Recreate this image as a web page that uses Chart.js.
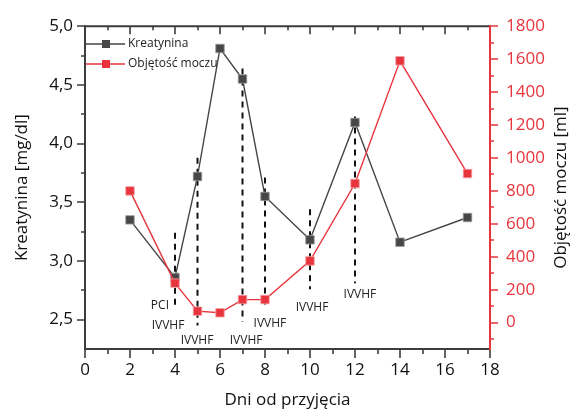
<!DOCTYPE html>
<html>
<head>
  <meta charset="utf-8">
  <title>Kreatynina i objętość moczu</title>
  <script src="https://cdn.jsdelivr.net/npm/chart.js"></script>
  <style>
    body { margin: 0; background: #fff; }
    canvas { display: block; }
  </style>
</head>
<body>
  <canvas id="chart" width="574" height="413"></canvas>

  <script>
    // ----- Data -----
    const days       = [2, 4, 5, 6, 7, 8, 10, 12, 14, 17];
    const creatinine = [3.35, 2.86, 3.72, 4.81, 4.55, 3.55, 3.18, 4.18, 3.16, 3.37];
    const urine      = [800, 240, 70, 60, 140, 140, 375, 845, 1590, 905];

    // dashed procedure markers (in creatinine units)
    const markDays   = [4, 5, 7, 8, 10, 12];
    const markTop    = [3.24, 3.88, 4.64, 3.71, 3.44, 4.23];
    const markBottom = [2.60, 2.45, 2.48, 2.60, 2.76, 2.81];

    // procedure labels
    const noteText = ["PCI", "IVVHF", "IVVHF", "IVVHF", "IVVHF", "IVVHF", "IVVHF"];
    const noteX    = [3.33, 3.69, 4.98, 7.16, 8.22, 10.09, 12.22];
    const noteY    = [2.62, 2.45, 2.32, 2.32, 2.47, 2.60, 2.71];

    // axis ticks
    const xTicks     = [0, 2, 4, 6, 8, 10, 12, 14, 16, 18];
    const xMinor     = [1, 3, 5, 7, 9, 11, 13, 15, 17];
    const leftTicks  = [2.5, 3.0, 3.5, 4.0, 4.5, 5.0];
    const leftMinor  = [2.75, 3.25, 3.75, 4.25, 4.75];
    const rightTicks = [0, 200, 400, 600, 800, 1000, 1200, 1400, 1600, 1800];
    const rightMinor = [-100, 100, 300, 500, 700, 900, 1100, 1300, 1500, 1700];

    const DARK = "#3d3d3d";
    const RED  = "#e8343c";
    const FONT = "'Open Sans', sans-serif";

    const toPts = (xs, ys) => xs.map((x, i) => ({ x: x, y: ys[i] }));

    const datasets = [
      {
        label: "Objętość moczu",
        data: toPts(days, urine),
        yAxisID: "y1",
        borderColor: RED,
        borderWidth: 1.4,
        backgroundColor: RED,
        pointStyle: "rect",
        pointRadius: 6,
        pointBorderColor: "#f4a0a4",
        pointBorderWidth: 0.8,
        tension: 0
      },
      {
        label: "Kreatynina",
        data: toPts(days, creatinine),
        yAxisID: "y",
        borderColor: "#454545",
        borderWidth: 1.4,
        backgroundColor: "#474747",
        pointStyle: "rect",
        pointRadius: 6,
        pointBorderColor: "#9a9a9a",
        pointBorderWidth: 0.8,
        tension: 0
      }
    ];

    markDays.forEach((d, i) => {
      datasets.push({
        label: "",
        data: [{ x: d, y: markTop[i] }, { x: d, y: markBottom[i] }],
        yAxisID: "y",
        borderColor: "#111",
        borderWidth: 2,
        borderDash: [6, 5],
        pointRadius: 0
      });
    });

    // ----- frame, minor ticks, titles, legend and notes -----
    const decorations = {
      id: "decorations",
      afterDraw(chart) {
        const ctx = chart.ctx;
        const { left, right, top, bottom } = chart.chartArea;
        const sx = chart.scales.x, sy = chart.scales.y, sr = chart.scales.y1;

        ctx.save();
        ctx.lineCap = "butt";

        // notes
        ctx.fillStyle = "#222";
        ctx.font = "12px " + FONT;
        ctx.textAlign = "center";
        ctx.textBaseline = "middle";
        noteText.forEach((t, i) => {
          ctx.fillText(t, sx.getPixelForValue(noteX[i]), sy.getPixelForValue(noteY[i]));
        });

        // top + bottom axes
        ctx.strokeStyle = DARK;
        ctx.lineWidth = 2;
        ctx.beginPath();
        ctx.moveTo(left, top); ctx.lineTo(right, top);
        ctx.moveTo(left - 1, bottom); ctx.lineTo(right, bottom);
        ctx.stroke();

        ctx.lineWidth = 1.6;
        ctx.beginPath();
        xTicks.forEach(v => {
          const p = Math.round(sx.getPixelForValue(v));
          ctx.moveTo(p, bottom); ctx.lineTo(p, bottom + 9);
          ctx.moveTo(p, top); ctx.lineTo(p, top + 8);
        });
        xMinor.forEach(v => {
          const p = Math.round(sx.getPixelForValue(v));
          ctx.moveTo(p, bottom); ctx.lineTo(p, bottom + 5);
          ctx.moveTo(p, top); ctx.lineTo(p, top + 4);
        });
        ctx.stroke();

        // left axis
        ctx.lineWidth = 2;
        ctx.beginPath();
        ctx.moveTo(left, top - 1); ctx.lineTo(left, bottom + 1);
        ctx.stroke();
        ctx.lineWidth = 1.6;
        ctx.beginPath();
        leftTicks.forEach(v => {
          const p = Math.round(sy.getPixelForValue(v));
          ctx.moveTo(left, p); ctx.lineTo(left - 8, p);
        });
        leftMinor.forEach(v => {
          const p = Math.round(sy.getPixelForValue(v));
          ctx.moveTo(left, p); ctx.lineTo(left - 4, p);
        });
        ctx.stroke();

        // right axis
        ctx.strokeStyle = RED;
        ctx.lineWidth = 2;
        ctx.beginPath();
        ctx.moveTo(right, top - 1); ctx.lineTo(right, bottom + 1);
        ctx.stroke();
        ctx.lineWidth = 1.6;
        ctx.beginPath();
        rightTicks.forEach(v => {
          const p = Math.round(sr.getPixelForValue(v));
          ctx.moveTo(right, p); ctx.lineTo(right + 8, p);
        });
        rightMinor.forEach(v => {
          const p = Math.round(sr.getPixelForValue(v));
          ctx.moveTo(right, p); ctx.lineTo(right + 4, p);
        });
        ctx.stroke();

        // axis titles
        ctx.fillStyle = "#111";
        ctx.font = "17px " + FONT;
        ctx.textAlign = "center";
        ctx.textBaseline = "middle";
        ctx.fillText("Dni od przyjęcia", (left + right) / 2, 400);
        ctx.save();
        ctx.translate(22, (top + bottom) / 2);
        ctx.rotate(-Math.PI / 2);
        ctx.fillText("Kreatynina [mg/dl]", 0, 0);
        ctx.restore();
        ctx.save();
        ctx.translate(561, (top + bottom) / 2);
        ctx.rotate(-Math.PI / 2);
        ctx.fillText("Objętość moczu [ml]", 0, 0);
        ctx.restore();

        // legend
        const rows = [
          { text: "Kreatynina", line: "#454545", fill: "#474747", y: 44 },
          { text: "Objętość moczu", line: RED, fill: RED, y: 64 }
        ];
        ctx.font = "12px " + FONT;
        ctx.textAlign = "left";
        rows.forEach(r => {
          ctx.strokeStyle = r.line;
          ctx.lineWidth = 1.4;
          ctx.beginPath();
          ctx.moveTo(left + 1, r.y); ctx.lineTo(left + 40, r.y);
          ctx.stroke();
          ctx.fillStyle = r.fill;
          ctx.fillRect(left + 17, r.y - 4, 8, 8);
          ctx.fillStyle = "#222";
          ctx.fillText(r.text, left + 43, r.y);
        });

        ctx.restore();
      }
    };

    new Chart(document.getElementById("chart").getContext("2d"), {
      type: "line",
      data: { datasets: datasets },
      plugins: [decorations],
      options: {
        responsive: false,
        animation: false,
        layout: { padding: { top: 22, left: 0, right: 0, bottom: 0 } },
        plugins: {
          legend: { display: false },
          tooltip: { enabled: false }
        },
        scales: {
          x: {
            type: "linear",
            min: 0,
            max: 18,
            afterBuildTicks: s => { s.ticks = xTicks.map(v => ({ value: v })); },
            afterFit: s => { s.height = 64; },
            grid: { display: false, drawTicks: false },
            border: { display: false },
            ticks: { padding: 11, color: "#111", font: { family: FONT, size: 17 } }
          },
          y: {
            position: "left",
            min: 2.25,
            max: 5.0,
            afterBuildTicks: s => { s.ticks = leftTicks.map(v => ({ value: v })); },
            afterFit: s => { s.width = 85; },
            grid: { display: false, drawTicks: false },
            border: { display: false },
            ticks: {
              padding: 12,
              color: "#111",
              font: { family: FONT, size: 17 },
              callback: v => v.toFixed(1).replace(".", ",")
            }
          },
          y1: {
            position: "right",
            min: -160,
            max: 1800,
            afterBuildTicks: s => { s.ticks = rightTicks.map(v => ({ value: v })); },
            afterFit: s => { s.width = 84; },
            grid: { display: false, drawTicks: false },
            border: { display: false },
            ticks: {
              padding: 16,
              color: RED,
              font: { family: FONT, size: 17 },
              callback: v => String(v)
            }
          }
        }
      }
    });
  </script>
</body>
</html>
